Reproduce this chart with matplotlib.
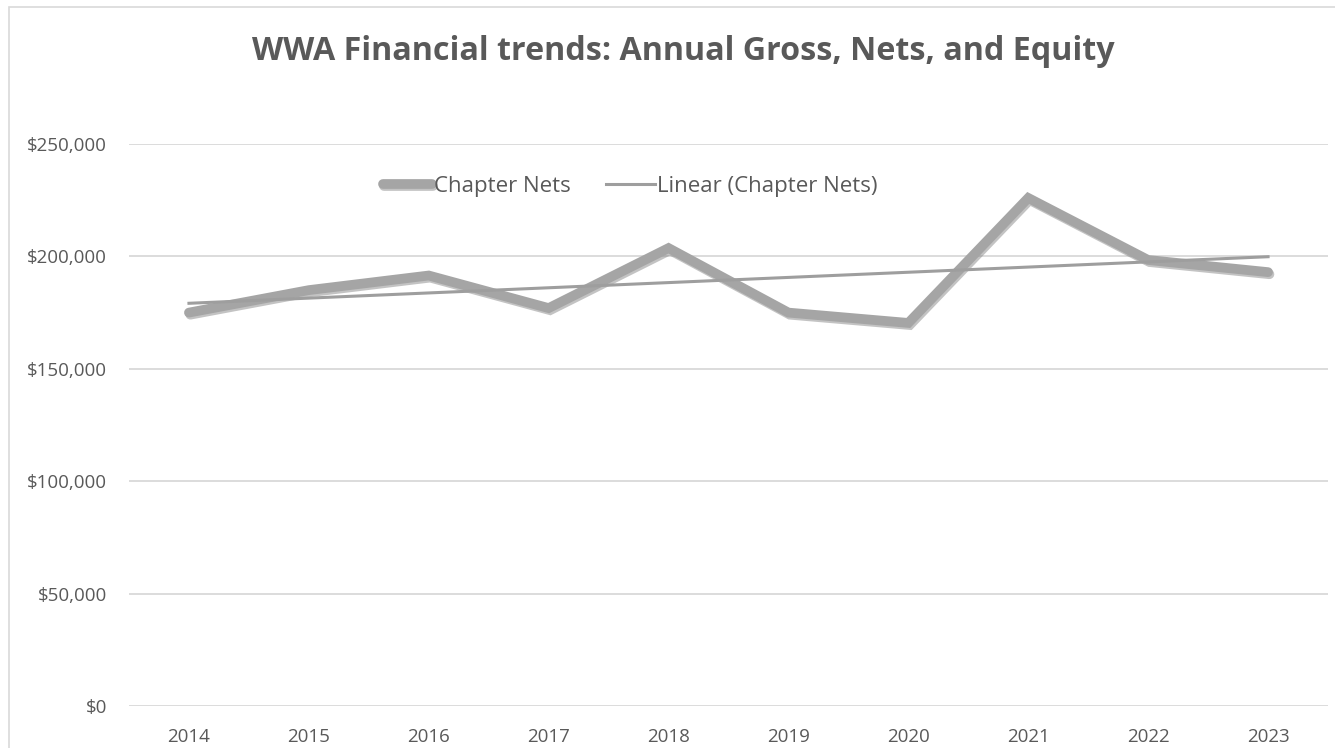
import matplotlib
matplotlib.use("Agg")
import matplotlib.pyplot as plt
import matplotlib.patheffects as pe
from matplotlib.patches import Rectangle
from matplotlib.ticker import FuncFormatter
import numpy as np

years = ["2014", "2015", "2016", "2017", "2018", "2019", "2020", "2021", "2022", "2023"]
chapter_nets = [175000, 185000, 191500, 177000, 203700, 175000, 170400, 226000, 198400, 193000]

title = "WWA Financial trends: Annual Gross, Nets, and Equity"
series_label = "Chapter Nets"
trend_label = "Linear (Chapter Nets)"

plt.rcParams['font.family'] = ['Open Sans', 'DejaVu Sans']
txt = "#595959"

fig = plt.figure(figsize=(13.35, 7.48), dpi=100)
fig.patches.append(Rectangle((9/1335, -0.1), 1.2, 1 - 7/748 + 0.1, transform=fig.transFigure,
                             fill=False, edgecolor="#D9D9D9", linewidth=1.2))

ax = fig.add_axes([129/1335, 1 - 706/748, (1328 - 129)/1335, (706 - 144)/748])
x = np.arange(len(years))
ax.plot(x, chapter_nets, color="#A5A5A5", linewidth=7, solid_joinstyle="miter",
        solid_capstyle="round", label=series_label, zorder=3,
        path_effects=[pe.SimpleLineShadow(offset=(1, -1.5), shadow_color="#888888", alpha=0.5),
                      pe.Normal()])
coef = np.polyfit(x, chapter_nets, 1)
ax.plot(x, np.polyval(coef, x), color="#9E9E9E", linewidth=2.2, label=trend_label, zorder=4)

ax.set_xlim(-0.5, len(years) - 0.5)
ax.set_ylim(0, 250000)
ax.set_yticks(np.arange(0, 250001, 50000))
ax.yaxis.set_major_formatter(FuncFormatter(lambda v, p: f"${v:,.0f}"))
ax.set_xticks(x)
ax.set_xticklabels(years)
ax.grid(axis="y", color="#D9D9D9", linewidth=1.3)
ax.set_axisbelow(True)
for s in ax.spines.values():
    s.set_visible(False)
ax.tick_params(axis="both", length=0, labelsize=13.5, labelcolor=txt)
ax.tick_params(axis="y", pad=16)
ax.tick_params(axis="x", pad=16)

fig.text(683/1335, 1 - 52/748, title, ha="center", va="center", fontsize=23.2, fontweight="bold", color=txt)

leg = ax.legend(loc="center", bbox_to_anchor=(0.418, 0.925), ncol=2, frameon=False,
                fontsize=16, labelcolor=txt, handlelength=2.2, handletextpad=0.1, columnspacing=1.6)

fig.savefig("out.png", dpi=100)
